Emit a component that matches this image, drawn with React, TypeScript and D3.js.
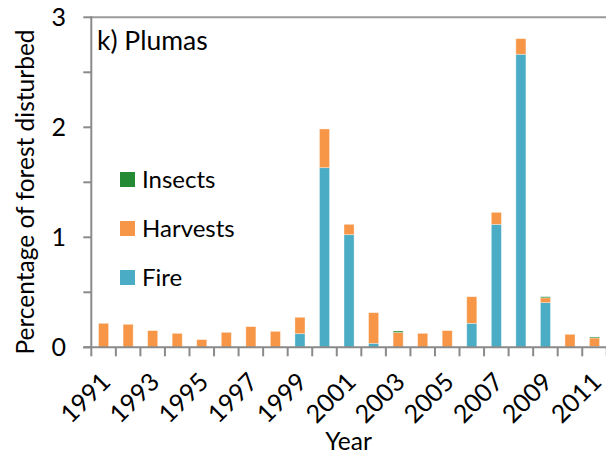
import React from "react";
import * as d3 from "d3";

const years = d3.range(1991, 2012).map(String);
const fire = [0, 0, 0, 0, 0, 0, 0, 0, 0.124, 1.633, 1.024, 0.036, 0, 0, 0, 0.218, 1.118, 2.664, 0.406, 0, 0.008];
const harvests = [0.218, 0.209, 0.152, 0.127, 0.07, 0.136, 0.188, 0.145, 0.149, 0.352, 0.094, 0.279, 0.135, 0.127, 0.152, 0.242, 0.109, 0.142, 0.044, 0.118, 0.077];
const insects = [0, 0, 0, 0, 0, 0, 0, 0, 0, 0, 0, 0, 0.013, 0, 0, 0, 0, 0, 0.01, 0, 0.009];
const yTickValues = [0, 0.5, 1, 1.5, 2, 2.5, 3];
const yLabelValues = [0, 1, 2, 3];
const xLabelYears = years.filter((_, i) => i % 2 === 0);
const seriesNames = ["Fire", "Harvests", "Insects"];
const colors: Record<string, string> = { Fire: "#4BACC6", Harvests: "#F79646", Insects: "#248A33" };
const legendOrder = ["Insects", "Harvests", "Fire"];

const W = 606, H = 458;
const FONT = "Lato, 'Open Sans', sans-serif";

export default function App() {
  const x = d3.scaleBand<string>().domain(years).range([91.3, 606.8]).paddingInner(0.59).paddingOuter(0.295);
  const y = d3.scaleLinear().domain([0, 3]).range([347.3, 17.3]);
  const step = x.step();
  const bw = x.bandwidth();
  const rows = years.map((yr, i) => ({ year: yr, Fire: fire[i], Harvests: harvests[i], Insects: insects[i] }));
  const stack = d3.stack<any>().keys(seriesNames)(rows);
  const axisColor = "#8a8a8a";
  const x0 = 91.3;
  const tickXs = d3.range(0, years.length + 1).map((i) => x0 + i * step);

  return (
    <svg width={W} height={H} style={{ position: "absolute", left: 0, top: 0, background: "#fff" }} fontFamily={FONT}>
      <rect x={0} y={0} width={W} height={H} fill="#fff" />
      <line x1={x0} x2={W} y1={y(3)} y2={y(3)} stroke="#9a9a9a" strokeWidth={2} />
      {stack.map((s) => (
        <g key={s.key} fill={colors[s.key]}>
          {s.map((d, i) => {
            const h = y(d[0]) - y(d[1]);
            if (h <= 0) return null;
            return (
              <rect key={i} x={x(years[i])} y={y(d[1])} width={bw} height={h} stroke="#ffffff" strokeOpacity={0.45} strokeWidth={0.8} />
            );
          })}
        </g>
      ))}
      <line x1={x0} x2={x0} y1={y(3) - 1} y2={y(0) + 1} stroke={axisColor} strokeWidth={2} />
      {yTickValues.map((v) => (
        <line key={v} x1={x0 - 8} x2={x0} y1={y(v)} y2={y(v)} stroke={axisColor} strokeWidth={2} />
      ))}
      {yLabelValues.map((v) => (
        <text key={v} x={66} y={y(v)} dy="0.36em" textAnchor="end" fontSize={25} fill="#000">
          {v}
        </text>
      ))}
      <line x1={x0 - 8} x2={W} y1={y(0)} y2={y(0)} stroke={axisColor} strokeWidth={2} />
      {tickXs.map((tx, i) => (
        <line key={i} x1={tx} x2={tx} y1={y(0)} y2={y(0) + 9} stroke={axisColor} strokeWidth={2} />
      ))}
      {xLabelYears.map((yr) => {
        const cx = (x(yr) as number) + bw / 2;
        return (
          <text key={yr} transform={`translate(${cx + 2},${377}) rotate(-45)`} textAnchor="end" dy="0.36em" fontSize={25} fill="#000">
            {yr}
          </text>
        );
      })}
      <text x={348.5} y={450} textAnchor="middle" fontSize={24.5} fill="#000">Year</text>
      <text transform={`translate(33.5,${192}) rotate(-90)`} textAnchor="middle" fontSize={24.5} fill="#000">
        Percentage of forest disturbed
      </text>
      <text x={97} y={50} fontSize={26.5} fill="#000">k) Plumas</text>
      {legendOrder.map((name, i) => {
        const ly = 187 + i * 49;
        return (
          <g key={name}>
            <rect x={120} y={ly - 15} width={15} height={15} fill={colors[name]} />
            <text x={142} y={ly + 1} fontSize={24} fill="#000">{name}</text>
          </g>
        );
      })}
    </svg>
  );
}
